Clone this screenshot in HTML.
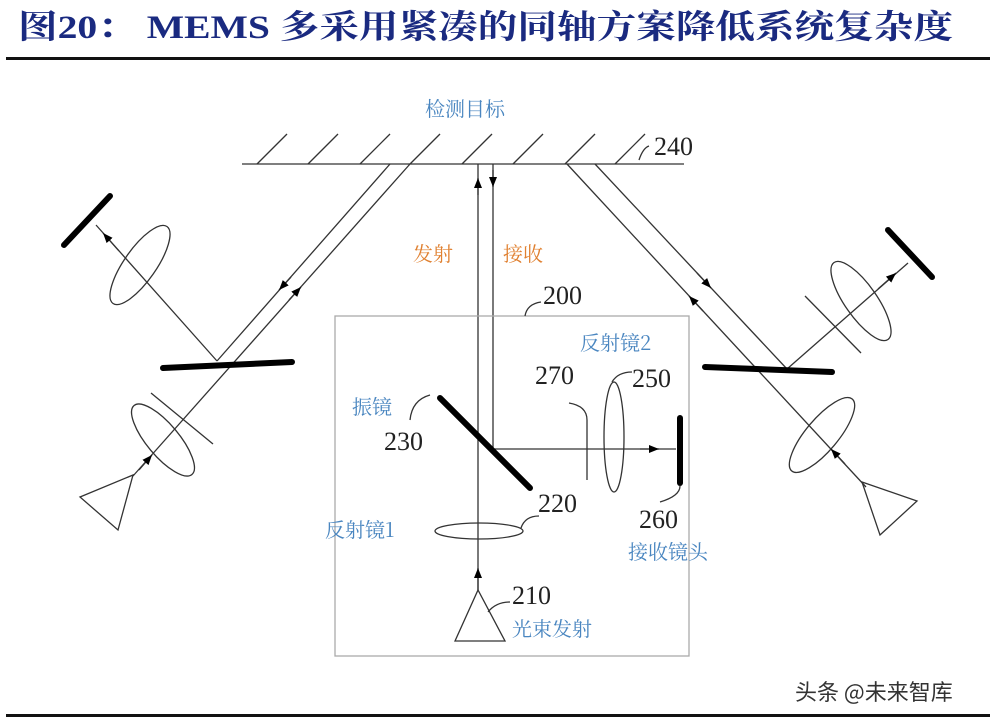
<!DOCTYPE html>
<html><head><meta charset="utf-8"><style>
html,body{margin:0;padding:0;background:#fff;width:1000px;height:721px;overflow:hidden}
</style></head><body>
<svg width="1000" height="721" viewBox="0 0 1000 721" xmlns="http://www.w3.org/2000/svg">
<defs><marker id="a" markerWidth="12" markerHeight="12" refX="10" refY="5" orient="auto" markerUnits="userSpaceOnUse"><path d="M0,1 L10,5 L0,9 z" fill="#000"/></marker></defs>
<text x="18" y="38" font-family="'Liberation Serif','Noto Serif CJK SC',serif" font-weight="bold" font-size="33" fill="#1a2a80" textLength="935" lengthAdjust="spacingAndGlyphs">图20：  MEMS 多采用紧凑的同轴方案降低系统复杂度</text>
<rect x="6" y="57" width="984" height="3" fill="#111"/>
<rect x="6" y="714" width="984" height="3" fill="#111"/>
<g stroke="#333" stroke-width="1.3" fill="none">
<line x1="242" y1="164" x2="684" y2="164"/>
<line x1="257" y1="164" x2="287" y2="134"/><line x1="308" y1="164" x2="338" y2="134"/><line x1="360" y1="164" x2="390" y2="134"/><line x1="410" y1="164" x2="440" y2="134"/><line x1="462" y1="164" x2="492" y2="134"/><line x1="513" y1="164" x2="543" y2="134"/><line x1="565" y1="164" x2="595" y2="134"/><line x1="615" y1="164" x2="645" y2="134"/>
<path d="M639,160 q4,-12 10,-14"/>
<line x1="478" y1="590" x2="478" y2="164"/><line x1="493" y1="164" x2="493" y2="449"/>
<line x1="493" y1="449" x2="676" y2="449"/>
<rect x="335" y="316" width="354" height="340" stroke="#aaa"/>
<path d="M525,316 q2,-12 16,-14"/>
<line x1="390" y1="164" x2="217" y2="361"/>
<line x1="410" y1="164" x2="133" y2="476"/>
<line x1="217" y1="361" x2="96" y2="225"/>
<ellipse cx="140" cy="265" rx="47" ry="16" transform="rotate(-55 140 265)"/>
<ellipse cx="163" cy="440" rx="45" ry="16" transform="rotate(50 163 440)"/>
<line x1="151" y1="393" x2="213" y2="444"/>
<polygon points="80,497 133,475 118,530"/>
<line x1="595" y1="164" x2="787" y2="369"/>
<line x1="567" y1="164" x2="866" y2="487"/>
<line x1="787" y1="369" x2="908" y2="263"/>
<ellipse cx="861" cy="301" rx="47" ry="16" transform="rotate(55 861 301)"/>
<ellipse cx="822" cy="435" rx="47" ry="16" transform="rotate(-50 822 435)"/>
<line x1="805" y1="296" x2="861" y2="353"/>
<polygon points="862,482 917,501 880,535"/>
<ellipse cx="479" cy="531" rx="44" ry="8"/>
<ellipse cx="614" cy="437" rx="10" ry="55"/>
<polygon points="455,641 478,590 505,641"/>
<path d="M430,395 q-18,5 -20,25"/>
<path d="M587,480 l0,-60 q0,-14 -18,-17"/>
<path d="M521,528 q4,-12 18,-12"/>
<path d="M612,382 q6,-10 20,-10"/>
<path d="M680,486 q0,10 -20,16"/>
<path d="M488,612 q8,-10 22,-10"/>
</g>
<g stroke="#333" stroke-width="1.3" marker-end="url(#a)">
<line x1="478" y1="195" x2="478" y2="178"/>
<line x1="493" y1="170" x2="493" y2="187"/>
<line x1="478" y1="590" x2="478" y2="568"/>
<line x1="640" y1="449" x2="659" y2="449"/>
<line x1="291" y1="277" x2="279" y2="290"/>
<line x1="289" y1="300" x2="301" y2="287"/>
<line x1="119" y1="251" x2="103" y2="233"/>
<line x1="139" y1="470" x2="152" y2="455"/>
<line x1="697" y1="273" x2="711" y2="288"/>
<line x1="703" y1="311" x2="689" y2="296"/>
<line x1="878" y1="289" x2="896" y2="273"/>
<line x1="845" y1="464" x2="831" y2="449"/>
</g>
<g stroke="#000" stroke-width="6" stroke-linecap="round">
<line x1="64" y1="245" x2="110" y2="196"/>
<line x1="163" y1="368" x2="292" y2="362"/>
<line x1="705" y1="367" x2="832" y2="372"/>
<line x1="888" y1="230" x2="932" y2="277"/>
<line x1="440" y1="398" x2="530" y2="488"/>
<line x1="680" y1="418" x2="680" y2="483"/>
</g>
<g font-family="'Liberation Serif','Noto Serif CJK SC',serif" font-size="26" fill="#222">
<text x="654" y="155">240</text><text x="543" y="304">200</text>
<text x="535" y="384">270</text><text x="632" y="387">250</text>
<text x="384" y="450">230</text><text x="538" y="512">220</text>
<text x="639" y="528">260</text><text x="512" y="604">210</text>
</g>
<g font-family="'Noto Serif CJK SC',serif" font-size="20" fill="#4a86c0">
<text x="425" y="116">检测目标</text>
<text x="580" y="350">反射镜2</text>
<text x="352" y="414">振镜</text>
<text x="325" y="537">反射镜1</text>
<text x="628" y="559">接收镜头</text>
<text x="512" y="636">光束发射</text>
</g>
<g font-family="'Noto Serif CJK SC',serif" font-size="20" fill="#e08030">
<text x="413" y="261">发射</text><text x="503" y="261">接收</text>
</g>
<text x="795" y="700" font-family="'Noto Sans CJK SC',sans-serif" font-size="22" fill="#333">头条 @未来智库</text>
</svg>
</body></html>
